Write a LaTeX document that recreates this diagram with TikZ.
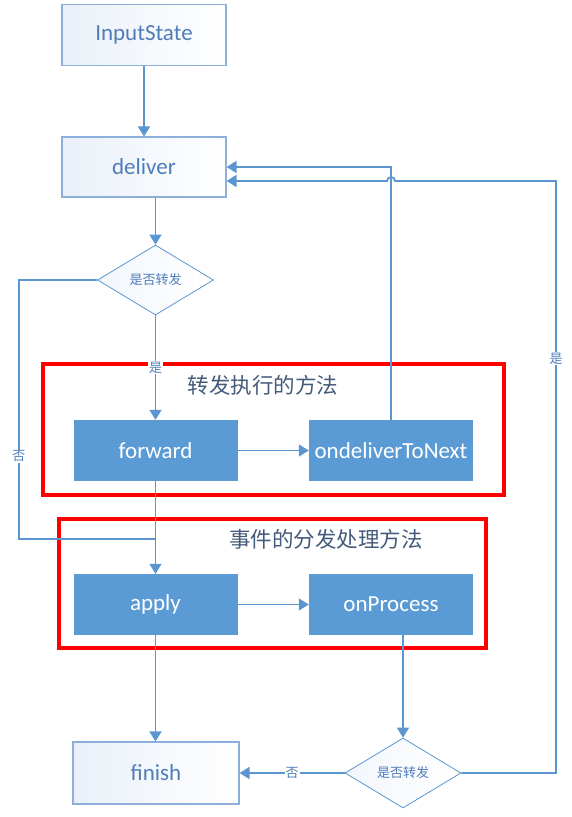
\documentclass[tikz,border=0pt]{standalone}
\usepackage{fontspec}
\setmainfont{Carlito}
\newfontfamily\cjk{Noto Sans CJK SC}
\usetikzlibrary{arrows.meta,positioning,shapes.geometric}
\definecolor{flowblue}{RGB}{91,155,213}
\definecolor{flowline}{RGB}{91,150,208}
\definecolor{flowedge}{RGB}{140,175,220}
\definecolor{flowtext}{RGB}{79,125,185}
\definecolor{flowtitle}{RGB}{68,90,122}
\definecolor{flowred}{RGB}{255,0,0}
\definecolor{flowpale}{RGB}{234,240,249}

\begin{document}
\begin{tikzpicture}[x=1pt, y=-1pt,
  lightbox/.style={rectangle, draw=flowedge, line width=1.2pt, left color=flowpale, right color=white,
    text=flowtext, font=\fontsize{23}{26}\selectfont, minimum width=164pt, minimum height=61pt, inner sep=0pt},
  bluebox/.style={rectangle, fill=flowblue, text=white, font=\fontsize{23}{26}\selectfont,
    minimum width=164pt, minimum height=61pt, inner sep=0pt},
  decision/.style={diamond, draw=flowline, line width=0.8pt, left color=flowpale!60, right color=white,
    text=flowtext, font=\cjk\fontsize{13}{15}\selectfont, minimum width=116pt, minimum height=70pt, inner sep=0pt},
  flow/.style={flowline, line width=1.8pt, -{Triangle[length=10pt,width=12pt]}},
  thinflow/.style={flowline, line width=1.2pt, -{Triangle[length=10pt,width=12pt]}},
  yesno/.style={fill=white, text=flowtext, font=\cjk\fontsize{13}{15}\selectfont, inner sep=1pt},
  redframe/.style={draw=flowred, line width=4pt},
  frametitle/.style={text=flowtitle, font=\cjk\fontsize{21.5}{24}\selectfont}]
\useasboundingbox (0,0) rectangle (572,817);
% Red frames
\draw[redframe] (43,364) rectangle (504,495);
\node[frametitle] (title1) at (263,385) {转发执行的方法};
\draw[redframe] (59,519) rectangle (486,648);
\node[frametitle] (title2) at (326,539) {事件的分发处理方法};
% Steps
\node[lightbox] (input) at (144,35) {InputState};
\node[lightbox, minimum height=60pt] (deliver) at (144,167) {deliver};
\node[decision] (dec1) at (155.5,280) {是否转发};
\node[bluebox] (forward) at (155.5,450.5) {forward};
\node[bluebox] (next) at (391,450.5) {ondeliverToNext};
\node[bluebox] (apply) at (155.5,604.5) {apply};
\node[bluebox] (process) at (391,604.5) {onProcess};
\node[lightbox, minimum width=166pt, minimum height=62pt] (finish) at (156,773) {finish};
\node[decision] (dec2) at (403,773) {是否转发};
% Connectors
\coordinate (lft) at (19,539);
\coordinate (back) at (556,181);
\draw[flow] (input) -- (deliver);
\draw[flow] (deliver.south -| dec1.north) -- (dec1.north);
\draw[flow] (dec1.south) -- (forward.north) node[pos=0.5, yesno] {是};
\draw[flowline, line width=1.5pt] (dec1.west) -| (lft) node[pos=0.84, yesno] {否} -- (lft -| apply.north);
\draw[thinflow] (forward) -- (apply);
\draw[thinflow] (forward) -- (next);
\draw[thinflow] (apply) -- (process);
\draw[flow] (next.north) |- (deliver.east);
\draw[flow] (dec2.east) -| (back) node[pos=0.85, yesno] {是}
  -- ([xshift=4pt]back -| next.north) arc[start angle=0, end angle=180, radius=4pt]
  -- (deliver.east |- back);
\draw[flow] (process.south -| dec2.north) -- (dec2.north);
\draw[flow] (dec2.west) -- (finish.east) node[pos=0.5, yesno] {否};
\draw[flow] (apply.south) -- (apply.south |- finish.north);
\end{tikzpicture}
\end{document}
